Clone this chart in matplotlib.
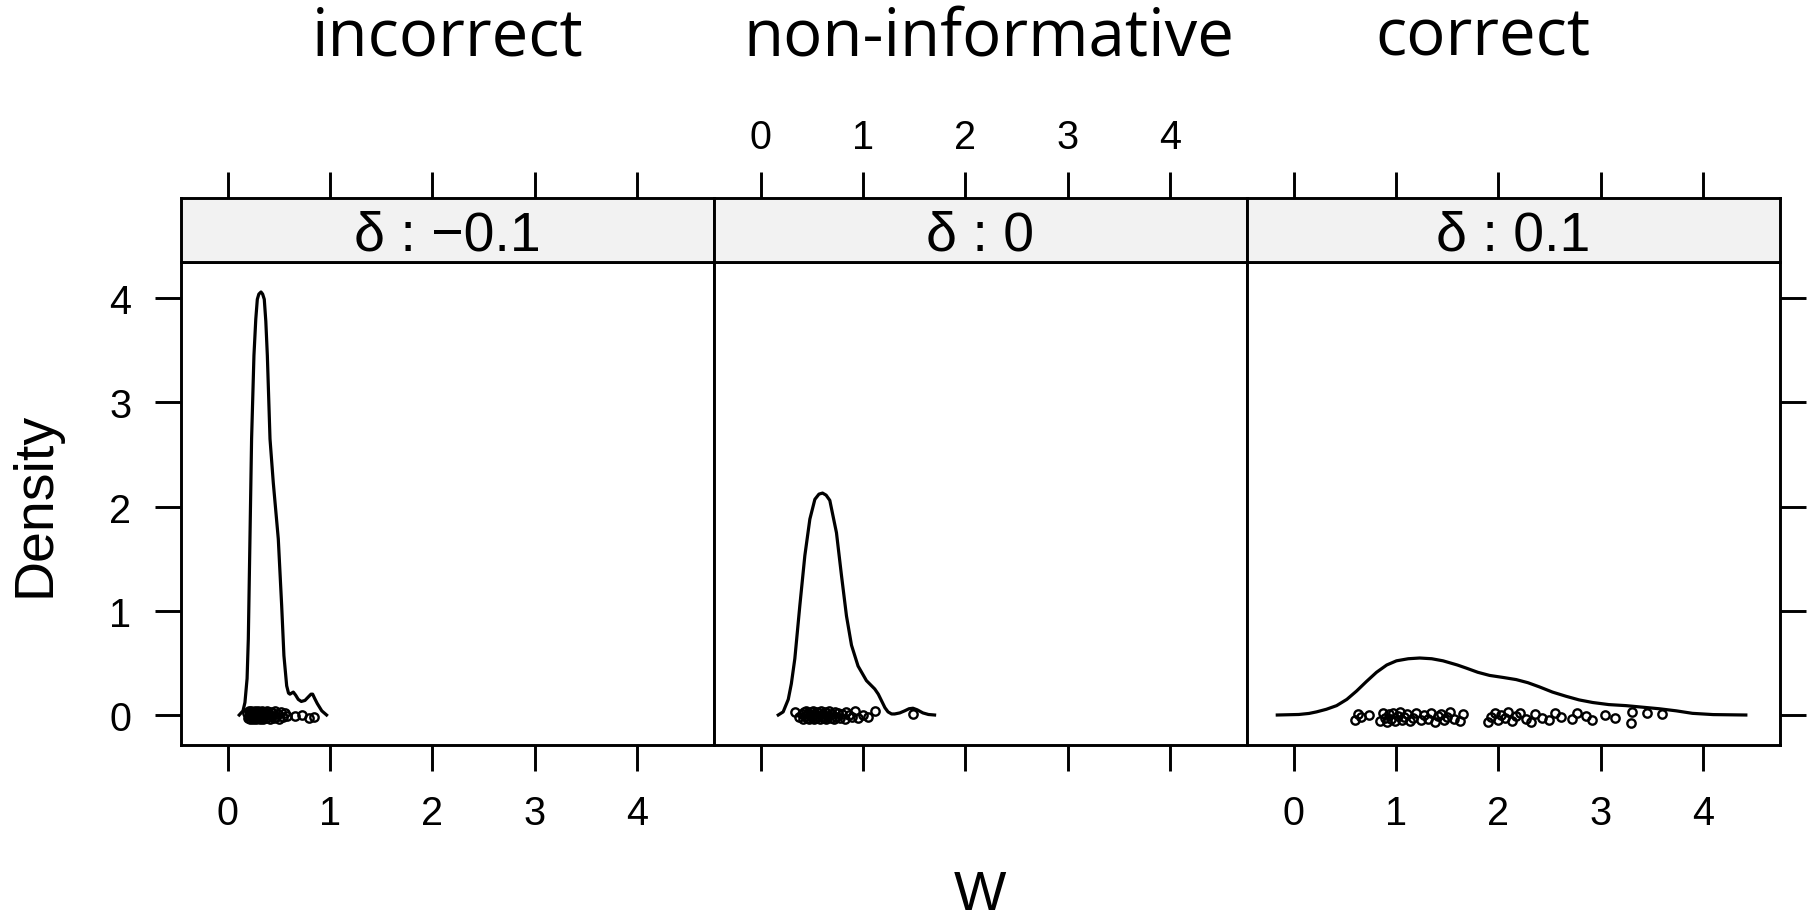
import matplotlib
matplotlib.use("Agg")
import matplotlib.pyplot as plt

plt.rcParams['font.family'] = ['Liberation Sans', 'DejaVu Sans']

# ---- data -------------------------------------------------------------
panel_titles = ["incorrect", "non-informative", "correct"]
strip_labels = ["δ : \u22120.1", "δ : 0", "δ : 0.1"]
x_ticks = [0, 1, 2, 3, 4]
y_ticks = [0, 1, 2, 3, 4]

# density curves (W, density)
dens1_x = [0.113, 0.15, 0.169, 0.19, 0.202, 0.218, 0.234, 0.257, 0.275, 0.290, 0.305,
           0.326, 0.342, 0.358, 0.373, 0.388, 0.414, 0.446, 0.495, 0.528, 0.550,
           0.577, 0.595, 0.609, 0.625, 0.642, 0.665, 0.690, 0.720, 0.756, 0.795,
           0.815, 0.831, 0.850, 0.876, 0.92, 0.967]
dens1_y = [0.0, 0.04, 0.12, 0.35, 0.73, 1.69, 2.65, 3.45, 3.80, 3.99, 4.04,
           4.06, 4.04, 3.99, 3.78, 3.45, 2.65, 2.23, 1.69, 1.05, 0.57,
           0.28, 0.21, 0.20, 0.21, 0.22, 0.19, 0.15, 0.13, 0.14, 0.18,
           0.20, 0.20, 0.16, 0.11, 0.04, 0.0]

dens2_x = [0.172, 0.22, 0.27, 0.30, 0.334, 0.383, 0.432, 0.481, 0.530, 0.570,
           0.605, 0.640, 0.676, 0.741, 0.790, 0.839, 0.888, 0.952, 1.034, 1.115,
           1.150, 1.180, 1.215, 1.245, 1.280, 1.310, 1.360, 1.408, 1.450, 1.489,
           1.530, 1.586, 1.640, 1.70]
dens2_y = [0.0, 0.03, 0.15, 0.30, 0.54, 1.05, 1.53, 1.88, 2.07, 2.12,
           2.13, 2.11, 2.06, 1.75, 1.34, 0.95, 0.67, 0.47, 0.33, 0.25,
           0.20, 0.14, 0.07, 0.03, 0.01, 0.01, 0.02, 0.04, 0.06, 0.065,
           0.05, 0.02, 0.005, 0.0]

dens3_x = [-0.16, 0.05, 0.15, 0.224, 0.32, 0.42, 0.52, 0.615, 0.71, 0.81,
           0.91, 1.005, 1.12, 1.232, 1.35, 1.46, 1.60, 1.688, 1.80, 1.915,
           2.05, 2.175, 2.29, 2.402, 2.53, 2.662, 2.79, 2.923, 3.08, 3.248,
           3.41, 3.573, 3.74, 3.898, 4.10, 4.42]
dens3_y = [0.0, 0.005, 0.015, 0.03, 0.055, 0.09, 0.15, 0.23, 0.32, 0.41,
           0.48, 0.52, 0.54, 0.547, 0.54, 0.52, 0.48, 0.45, 0.41, 0.38,
           0.36, 0.34, 0.31, 0.27, 0.22, 0.18, 0.145, 0.12, 0.10, 0.09,
           0.075, 0.06, 0.04, 0.016, 0.004, 0.0]

# raw observations (W) with their vertical jitter
obs1_x = [0.19, 0.20, 0.21, 0.21, 0.22, 0.22, 0.23, 0.23, 0.24, 0.24, 0.25, 0.25,
          0.26, 0.26, 0.27, 0.27, 0.28, 0.28, 0.29, 0.29, 0.30, 0.30, 0.31, 0.31,
          0.32, 0.32, 0.33, 0.33, 0.34, 0.34, 0.35, 0.35, 0.36, 0.36, 0.37, 0.37,
          0.38, 0.39, 0.40, 0.41, 0.42, 0.43, 0.44, 0.45, 0.46, 0.47, 0.49, 0.50,
          0.52, 0.54, 0.56, 0.58, 0.66, 0.73, 0.80, 0.84]
obs1_j = [0.02, -0.03, 0.04, -0.01, 0.03, -0.04, 0.01, 0.04, -0.02, 0.02, -0.04, 0.03,
          0.00, -0.03, 0.04, -0.01, 0.02, -0.04, 0.03, 0.01, -0.02, 0.04, -0.03, 0.02,
          -0.04, 0.00, 0.03, -0.02, 0.04, -0.03, 0.01, -0.04, 0.03, -0.01, 0.02, -0.03,
          0.04, -0.02, 0.01, -0.04, 0.03, -0.01, 0.02, -0.03, 0.04, -0.02, 0.01, -0.04,
          0.03, -0.02, 0.02, -0.01, -0.01, 0.00, -0.03, -0.02]

obs2_x = [0.34, 0.37, 0.40, 0.41, 0.42, 0.43, 0.44, 0.45, 0.46, 0.47, 0.48, 0.49,
          0.50, 0.51, 0.52, 0.53, 0.54, 0.55, 0.56, 0.57, 0.58, 0.59, 0.60, 0.61,
          0.62, 0.63, 0.64, 0.65, 0.66, 0.67, 0.69, 0.70, 0.72, 0.73, 0.74, 0.76,
          0.78, 0.80, 0.82, 0.83, 0.86, 0.89, 0.92, 0.95, 1.00, 1.05, 1.12, 1.49]
obs2_j = [0.03, -0.02, 0.01, -0.04, 0.03, -0.01, 0.04, -0.03, 0.02, -0.04, 0.00, 0.03,
          -0.02, 0.04, -0.04, 0.01, -0.03, 0.03, -0.01, 0.02, -0.04, 0.04, -0.02, 0.01,
          -0.03, 0.03, -0.04, 0.02, -0.01, 0.04, -0.03, 0.01, -0.04, 0.03, -0.02, 0.02,
          -0.03, 0.01, -0.04, 0.03, 0.00, -0.02, 0.04, -0.03, 0.00, -0.02, 0.04, 0.01]

obs3_x = [0.60, 0.63, 0.66, 0.74, 0.84, 0.87, 0.89, 0.91, 0.93, 0.95, 0.97, 0.99,
          1.02, 1.04, 1.06, 1.08, 1.11, 1.14, 1.17, 1.20, 1.24, 1.27, 1.31, 1.34,
          1.38, 1.41, 1.44, 1.47, 1.50, 1.53, 1.57, 1.63, 1.66, 1.90, 1.93, 1.97,
          2.00, 2.03, 2.07, 2.10, 2.13, 2.17, 2.21, 2.27, 2.32, 2.36, 2.43, 2.50,
          2.55, 2.61, 2.72, 2.77, 2.86, 2.92, 3.04, 3.14, 3.30, 3.31, 3.45, 3.60]
obs3_j = [-0.05, 0.01, -0.02, 0.00, -0.06, 0.02, -0.03, -0.07, 0.01, -0.04, 0.02, -0.06,
          -0.01, 0.03, -0.05, -0.02, 0.01, -0.06, -0.03, 0.02, -0.05, 0.00, -0.04, 0.02,
          -0.07, -0.01, 0.01, -0.05, -0.02, 0.03, -0.04, -0.06, 0.01, -0.07, -0.02, 0.02,
          -0.05, 0.00, -0.03, 0.03, -0.06, -0.01, 0.02, -0.04, -0.07, 0.01, -0.03, -0.05,
          0.02, -0.02, -0.04, 0.02, -0.01, -0.05, 0.00, -0.03, -0.08, 0.03, 0.02, 0.01]

curves = [(dens1_x, dens1_y), (dens2_x, dens2_y), (dens3_x, dens3_y)]
points = [(obs1_x, obs1_j), (obs2_x, obs2_j), (obs3_x, obs3_j)]

# ---- layout (pixel geometry) -----------------------------------------
W, H = 1807, 920
fig = plt.figure(figsize=(W / 100, H / 100), dpi=100)

def box(x0, ytop, w, h):
    return [x0 / W, 1 - (ytop + h) / H, w / W, h / H]

panel_left, panel_w = 181, 533
panel_top, panel_h = 263.3, 482.4
strip_top, strip_h = 199.3, 64.0
xlim = (-0.456, 4.754)
ylim = (-0.285, 4.345)

LW = 2.1
TICK_LEN = 18.7
TICK_FS = 28.5
strip_bg = "#F2F2F2"

title_x = [448, 989, 1483]

for i in range(3):
    x0 = panel_left + i * panel_w
    ax = fig.add_axes(box(x0, panel_top, panel_w, panel_h))
    st = fig.add_axes(box(x0, strip_top, panel_w, strip_h))

    # panel contents
    cx, cy = curves[i]
    ax.plot(cx, cy, color="black", lw=2.3, solid_joinstyle="round")
    px, pj = points[i]
    ax.plot(px, pj, linestyle="none", marker="o", markersize=6.0,
            markerfacecolor="none", markeredgecolor="black", markeredgewidth=1.7)
    ax.set_xlim(*xlim)
    ax.set_ylim(*ylim)
    for sp in ax.spines.values():
        sp.set_linewidth(LW)

    ax.set_xticks(x_ticks)
    ax.set_yticks(y_ticks)
    ax.tick_params(axis="both", direction="out", length=TICK_LEN, width=LW,
                   labelsize=TICK_FS)
    ax.tick_params(axis="x", pad=17, top=False,
                   labelbottom=(i != 1))
    ax.tick_params(axis="y", pad=17, left=(i == 0), labelleft=(i == 0),
                   right=(i == 2), labelright=False)

    # strip with its top axis
    st.set_facecolor(strip_bg)
    st.set_xlim(*xlim)
    st.set_ylim(0, 1)
    for sp in st.spines.values():
        sp.set_linewidth(LW)
    st.set_yticks([])
    st.set_xticks(x_ticks)
    st.tick_params(axis="x", direction="out", length=TICK_LEN, width=LW,
                   labelsize=TICK_FS, bottom=False, labelbottom=False,
                   top=True, labeltop=(i == 1), pad=12)
    st.text(0.5, 0.197, strip_labels[i], transform=st.transAxes,
            ha="center", va="baseline", fontsize=40)

    fig.text(title_x[i] / W, 1 - 56 / H, panel_titles[i],
             ha="center", va="baseline", fontsize=47, family="Open Sans")

fig.text(35 / W, 1 - 504.5 / H, "Density", rotation=90,
         ha="center", va="center", fontsize=40)
fig.text(980 / W, 1 - 896 / H, "W", ha="center", va="center", fontsize=40)

fig.savefig("out.png", dpi=100)
